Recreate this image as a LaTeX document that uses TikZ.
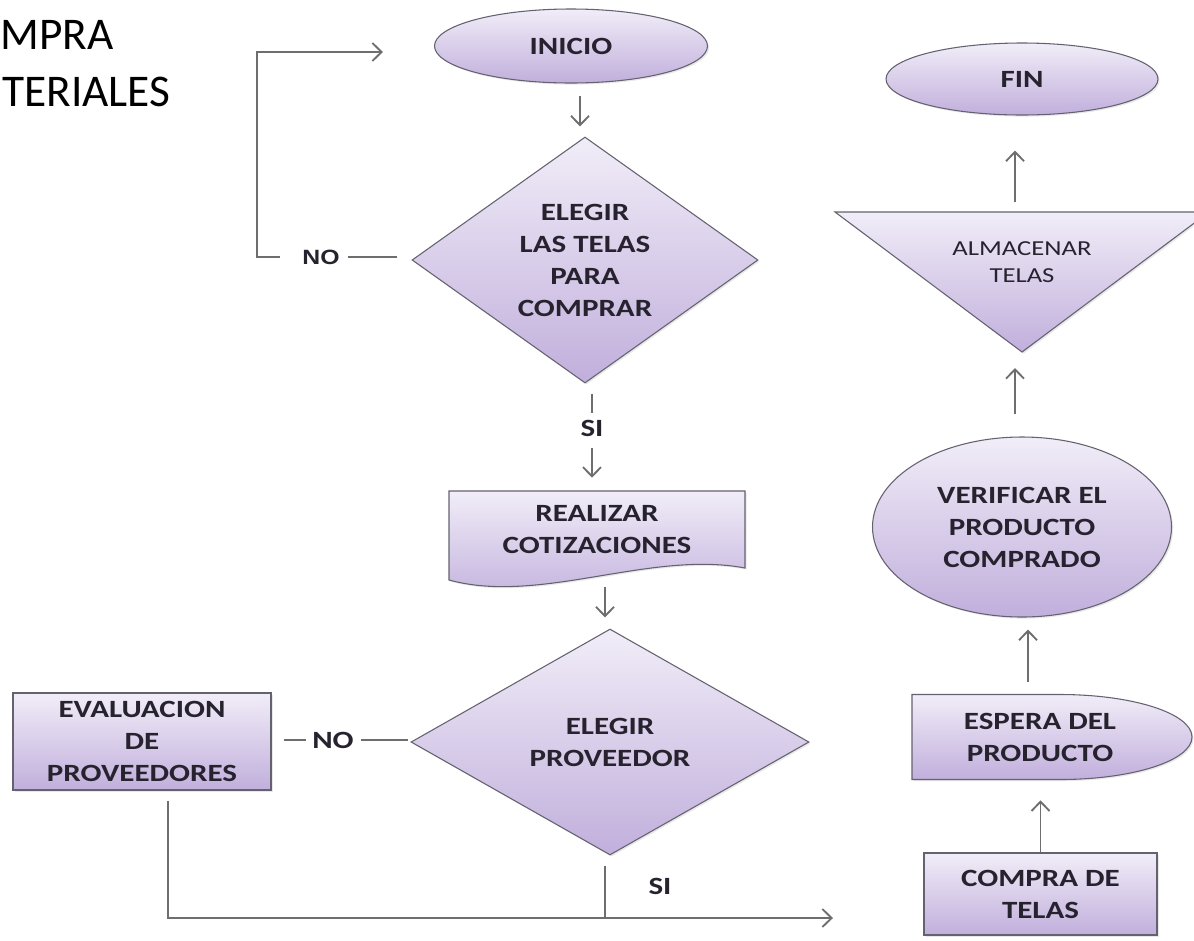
\documentclass[tikz,border=0pt]{standalone}
\usepackage{fontspec}
\setmainfont{Carlito}
\newfontfamily\labfont{Carlito}[FakeStretch=1.25]
\newfontfamily\nofont{Liberation Sans}[FakeStretch=1.2]
\usetikzlibrary{shapes.geometric,arrows.meta,calc,shadows,backgrounds}
\definecolor{lavtop}{HTML}{F1EDF8}
\definecolor{lavbot}{HTML}{C1AFDC}
\definecolor{edgec}{HTML}{65626F}
\definecolor{conn}{HTML}{6E6E6E}
\definecolor{txt}{HTML}{26232F}
\tikzset{
  shapefill/.style={top color=lavtop, bottom color=lavbot, draw=edgec, line width=0.8pt,
    drop shadow={opacity=0.18, shadow xshift=1.2pt, shadow yshift=-1.2pt}},
  lbl/.style={font=\labfont\bfseries\fontsize{18.6pt}{24pt}\selectfont, text=txt, align=center, inner sep=0pt},
  ghost/.style={lbl, rectangle, draw=none},
  conline/.style={draw=conn, line width=1.4pt},
  arr/.style={conline, -{Straight Barb[length=7pt,width=13.5pt]}},
  titlefont/.style={font=\fontsize{34pt}{40pt}\selectfont, text=black, inner sep=0pt, anchor=base west}
}
\begin{document}
\begin{tikzpicture}[x=0.75pt,y=-0.75pt]
\useasboundingbox (0,0) rectangle (1194,940);
\begin{scope}[on background layer]
  \fill[white] (0,0) rectangle (1194,940);
\end{scope}

% title
\node[titlefont] (t1) at (0,49) {MPRA};
\node[titlefont] (t2) at (2,106) {TERIALES};

% nodes
\node[lbl, ellipse, shapefill, minimum width=204.75pt, minimum height=55.5pt] (inicio) at (571,46) {INICIO};
\node[lbl, diamond, shapefill, shape aspect=1.41, minimum width=259.5pt, minimum height=184.5pt] (d1) at (585,260) {ELEGIR\\LAS TELAS\\PARA\\COMPRAR};
\node[ghost, minimum width=222pt, minimum height=58.5pt] (realizar) at (597,530) {REALIZAR\\COTIZACIONES};
\node[lbl, diamond, shapefill, shape aspect=1.76, minimum width=298.5pt, minimum height=169.5pt] (d2) at (610,742) {ELEGIR\\PROVEEDOR};
\node[lbl, rectangle, shapefill, minimum width=193.5pt, minimum height=72.75pt] (eval) at (142,741.5) {EVALUACION\\DE\\PROVEEDORES};
\node[lbl, rectangle, shapefill, minimum width=174.75pt, minimum height=61.5pt] (compra) at (1040.5,894) {COMPRA DE\\TELAS};
\node[ghost, minimum width=192pt, minimum height=63.75pt] (espera) at (1040,737) {ESPERA DEL\\PRODUCTO};
\node[lbl, ellipse, shapefill, minimum width=224.25pt, minimum height=135pt] (verif) at (1022,527) {VERIFICAR EL\\PRODUCTO\\COMPRADO};
\node[ghost, font=\labfont\fontsize{16pt}{20.25pt}\selectfont] (alm) at (1022,262.5) {ALMACENAR\\TELAS};
\node[lbl, ellipse, shapefill, minimum width=204pt, minimum height=54pt] (fin) at (1022,79) {FIN};

% custom shapes behind their texts
\begin{scope}[on background layer]
  % document shape
  \path[shapefill] (449,580) -- (449,491) -- (745,491) -- (745,568)
     .. controls (650,550) and (540,605) .. (449,580) -- cycle;
  % delay shape
  \path[shapefill] (912,779.5) -- (912,694.5) -- (1060,694.5)
     .. controls (1133,694.5) and (1192,713.5) .. (1192,737)
     .. controls (1192,760.5) and (1133,779.5) .. (1060,779.5) -- cycle;
  % merge triangle
  \path[shapefill] (835,212) -- (1209,212) -- (1022,352) -- cycle;
\end{scope}

% labels
\node[font=\nofont\bfseries\fontsize{15.5pt}{18pt}\selectfont, text=txt, inner sep=0pt] (no1) at (321,257) {NO};
\node[lbl] (si1) at (592,428) {SI};
\node[lbl] (no2) at (333,740) {NO};
\node[lbl] (si2) at (660,886) {SI};

% free ends
\coordinate (loopc) at (257,257);
\coordinate (loopend) at (383,52);
\coordinate (botend) at (833,918);
\coordinate (almtip) at (1022,352);
\coordinate (almtop) at (1015,212);

% connectors, left column
\draw[arr, shorten <=9pt, shorten >=7.5pt] ([xshift=6.75pt]inicio.south) -- ([xshift=6.75pt]inicio.south |- d1.north);
\draw[conline, shorten <=7.5pt, shorten >=5.25pt] (d1.south -| si1) -- (si1.north);
\draw[arr, shorten <=9pt, shorten >=9.75pt] (si1.south) -- (si1.south |- realizar.north);
\draw[arr, shorten <=13.5pt, shorten >=8.25pt] ([xshift=6pt]realizar.south) -- ([xshift=6pt]realizar.south |- d2.north);

\draw[arr, shorten <=16.5pt] (no1.west) -- (loopc) |- (loopend);
\draw[conline, shorten <=6pt, shorten >=10.5pt] (no1.east) -- (no1.east -| d1.west);

\draw[conline, shorten <=9pt, shorten >=4.5pt] (eval.east |- no2) -- (no2.west);
\draw[conline, shorten <=5.25pt, shorten >=1.5pt] (no2.east) -- (no2.east -| d2.west);

\draw[arr, shorten <=7.5pt] ([xshift=19.5pt]eval.south) |- (botend);
\draw[conline, shorten <=7.5pt] ([xshift=-3.75pt]d2.south) -- ([xshift=-3.75pt]d2.south |- botend);

% connectors, right column
\draw[arr, shorten >=15.4pt] (compra.north) -- (compra.north |- espera.south);
\draw[arr, shorten <=9.4pt, shorten >=9pt] ([xshift=-9pt]espera.north) -- ([xshift=-9pt]espera.north |- verif.south);
\draw[arr, shorten <=16.5pt, shorten >=12pt] ([xshift=-5.25pt]verif.north) -- ([xshift=-5.25pt]verif.north |- almtip);
\draw[arr, shorten <=7.5pt, shorten >=26.25pt] (almtop) -- (almtop |- fin.south);
\end{tikzpicture}
\end{document}
